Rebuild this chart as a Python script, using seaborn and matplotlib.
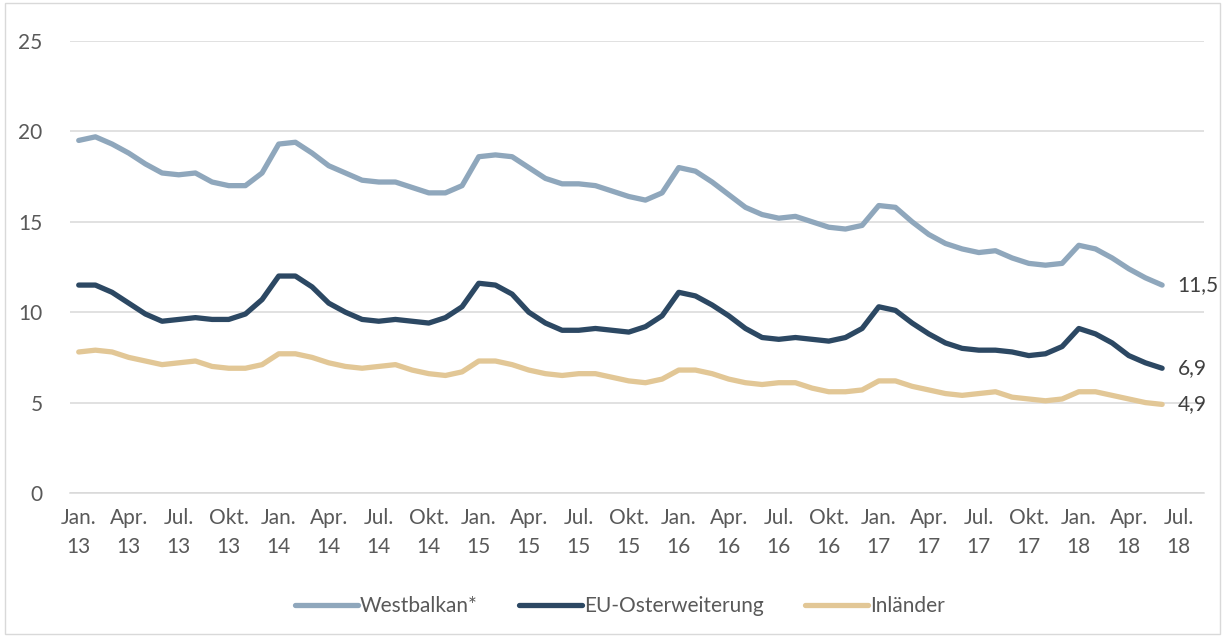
import pandas as pd
import matplotlib
matplotlib.use("Agg")
import matplotlib.pyplot as plt
import seaborn as sns

# monthly values Jan 2013 - Jun 2018
westbalkan = [19.5, 19.7, 19.3, 18.8, 18.2, 17.7, 17.6, 17.7, 17.2, 17.0, 17.0, 17.7,
              19.3, 19.4, 18.8, 18.1, 17.7, 17.3, 17.2, 17.2, 16.9, 16.6,
              16.6, 17.0, 18.6, 18.7, 18.6, 18.0, 17.4, 17.1, 17.1, 17.0, 16.7, 16.4,
              16.2, 16.6, 18.0, 17.8, 17.2, 16.5, 15.8, 15.4, 15.2, 15.3,
              15.0, 14.7, 14.6, 14.8, 15.9, 15.8, 15.0, 14.3, 13.8, 13.5, 13.3, 13.4,
              13.0, 12.7, 12.6, 12.7, 13.7, 13.5, 13.0, 12.4, 11.9, 11.5]
eu_ost = [11.5, 11.5, 11.1, 10.5, 9.9, 9.5, 9.6, 9.7, 9.6, 9.6, 9.9, 10.7,
          12.0, 12.0, 11.4, 10.5, 10.0, 9.6, 9.5, 9.6, 9.5, 9.4,
          9.7, 10.3, 11.6, 11.5, 11.0, 10.0, 9.4, 9.0, 9.0, 9.1, 9.0, 8.9,
          9.2, 9.8, 11.1, 10.9, 10.4, 9.8, 9.1, 8.6, 8.5, 8.6,
          8.5, 8.4, 8.6, 9.1, 10.3, 10.1, 9.4, 8.8, 8.3, 8.0, 7.9, 7.9,
          7.8, 7.6, 7.7, 8.1, 9.1, 8.8, 8.3, 7.6, 7.2, 6.9]
inlaender = [7.8, 7.9, 7.8, 7.5, 7.3, 7.1, 7.2, 7.3, 7.0, 6.9, 6.9, 7.1,
             7.7, 7.7, 7.5, 7.2, 7.0, 6.9, 7.0, 7.1, 6.8, 6.6,
             6.5, 6.7, 7.3, 7.3, 7.1, 6.8, 6.6, 6.5, 6.6, 6.6, 6.4, 6.2,
             6.1, 6.3, 6.8, 6.8, 6.6, 6.3, 6.1, 6.0, 6.1, 6.1,
             5.8, 5.6, 5.6, 5.7, 6.2, 6.2, 5.9, 5.7, 5.5, 5.4, 5.5, 5.6,
             5.3, 5.2, 5.1, 5.2, 5.6, 5.6, 5.4, 5.2, 5.0, 4.9]

series_names = ["Westbalkan*", "EU-Osterweiterung", "Inländer"]
colors = ["#8fa7bc", "#2c4863", "#e2c796"]
end_labels = ["11,5", "6,9", "4,9"]

month_names = ["Jan.", "Apr.", "Jul.", "Okt."]
tick_labels = [f"{month_names[(i // 3) % 4]}\n{13 + i // 12}" for i in range(0, 67, 3)]

months = list(range(len(westbalkan)))
df = pd.DataFrame({
    "month": months * 3,
    "value": westbalkan + eu_ost + inlaender,
    "series": [series_names[0]] * len(months) + [series_names[1]] * len(months)
              + [series_names[2]] * len(months),
})

sns.set_style("white")
plt.rcParams["font.family"] = ["Lato", "DejaVu Sans"]

fig = plt.figure(figsize=(12.25, 6.37), dpi=100)
ax = fig.add_axes([70.4 / 1225, 144 / 637, (1203.8 - 70.4) / 1225, 452 / 637])

sns.lineplot(data=df, x="month", y="value", hue="series", palette=colors,
             linewidth=3.8, ax=ax, legend=True)
for line in ax.lines:
    line.set_solid_capstyle("round")
    line.set_solid_joinstyle("round")

ax.set_xlim(-0.5, 67.5)
ax.set_ylim(0, 25)
ax.set_yticks(range(0, 26, 5))
ax.yaxis.grid(True, color="#d9d9d9", linewidth=1.1)
ax.set_axisbelow(True)
for s in ["top", "right", "left"]:
    ax.spines[s].set_visible(False)
ax.spines["bottom"].set_color("#d9d9d9")
ax.spines["bottom"].set_linewidth(1.1)

ax.set_xticks(range(0, 67, 3))
ax.set_xticklabels(tick_labels, linespacing=1.55)
ax.set_xticks([x - 0.5 for x in range(0, 67, 3)], minor=True)
ax.tick_params(axis="x", which="major", length=0, pad=11, labelsize=15, labelcolor="#595959")
ax.tick_params(axis="x", which="minor", length=6, width=1.1, color="#d9d9d9", direction="out")
ax.tick_params(axis="y", length=0, pad=20, labelsize=15, labelcolor="#595959")
ax.set_xlabel("")
ax.set_ylabel("")

last = [westbalkan[-1], eu_ost[-1], inlaender[-1]]
for val, txt in zip(last, end_labels):
    ax.annotate(txt, (months[-1], val), xytext=(11, 0), textcoords="offset points",
                va="center", ha="left", fontsize=15, color="#404040")

handles, labels = ax.get_legend_handles_labels()
ax.get_legend().remove()
fig.legend(handles, labels, loc="center", bbox_to_anchor=(620 / 1225, 1 - 606 / 637),
           ncol=3, frameon=False, fontsize=15, labelcolor="#595959",
           handlelength=3.0, handletextpad=0.1, columnspacing=2.0)

fig.patches.append(plt.Rectangle((0.004, 0.004), 0.992, 0.992, transform=fig.transFigure,
                                 fill=False, edgecolor="#d9d9d9", linewidth=1))

fig.savefig("out.png", dpi=100, facecolor="white")
